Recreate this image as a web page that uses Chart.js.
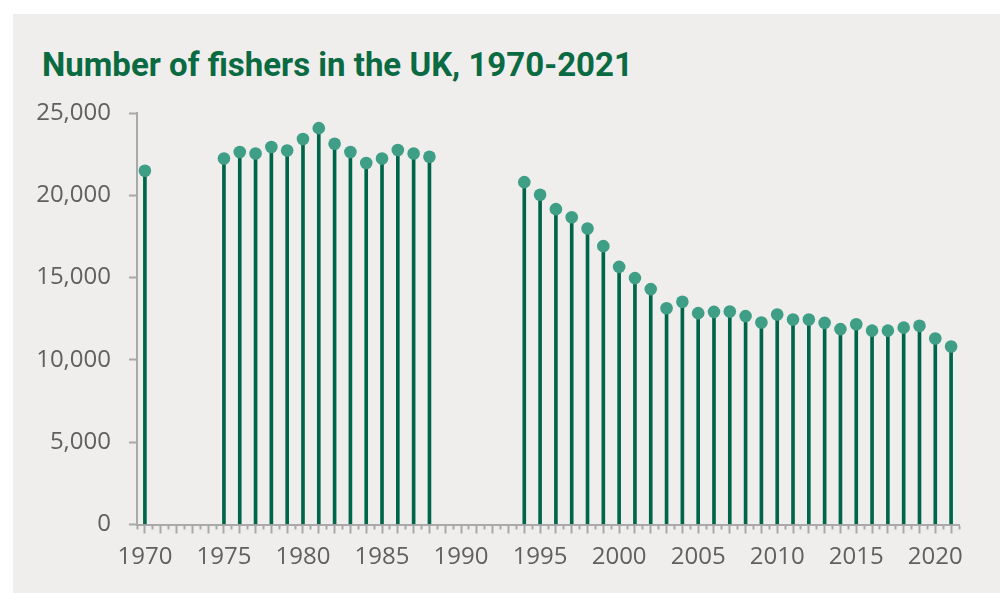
<!DOCTYPE html>
<html>
<head>
<meta charset="utf-8">
<script src="https://cdn.jsdelivr.net/npm/chart.js@4.4.1/dist/chart.umd.min.js"></script>
<style>
  html, body { margin: 0; padding: 0; background: #ffffff; }
  #wrap {
    position: absolute; left: 13px; top: 14px;
    width: 987px; height: 579px;
    background: #efeeec;
  }
  #title {
    position: absolute; left: 29px; top: 34px; margin: 0;
    font: 700 33px Roboto, sans-serif; line-height: 1;
    color: #0a6a42; white-space: nowrap;
  }
  #chart { position: absolute; left: 0; top: 0; }
</style>
</head>
<body>
<div id="wrap">
  <h1 id="title">Number of fishers in the UK, 1970-2021</h1>
  <canvas id="chart" width="987" height="579"></canvas>
</div>
<script>
// years with data (no figures for 1971-74 and 1989-93)
const years = [
  1970,
  1975, 1976, 1977, 1978, 1979, 1980, 1981, 1982, 1983, 1984, 1985, 1986, 1987, 1988,
  1994, 1995, 1996, 1997, 1998, 1999, 2000, 2001, 2002, 2003, 2004, 2005, 2006, 2007,
  2008, 2009, 2010, 2011, 2012, 2013, 2014, 2015, 2016, 2017, 2018, 2019, 2020, 2021,
];
const fishers = [
  21490,
  22240, 22630, 22540, 22930, 22720, 23420, 24080, 23130, 22630, 21960, 22240, 22750, 22540, 22340,
  20800, 20030, 19160, 18670, 17980, 16910, 15650, 14970, 14300, 13140, 13530, 12840, 12920, 12940,
  12660, 12270, 12760, 12450, 12450, 12250, 11870, 12170, 11780, 11780, 11960, 12070, 11300, 10810,
];
const yTicks = [0, 5000, 10000, 15000, 20000, 25000];
const xLabelYears = [1970, 1975, 1980, 1985, 1990, 1995, 2000, 2005, 2010, 2015, 2020];
const firstYear = 1970;
const lastYear = 2021;

const allYears = [];
for (let y = firstYear; y <= lastYear; y++) allYears.push(y);

const points = years.map((y, i) => ({ x: y, y: fishers[i] }));

const axisGrey = '#a9a9a9';
const labelGrey = '#606060';
const labelFont = { family: "'Open Sans'", size: 24 };

new Chart(document.getElementById('chart'), {
  type: 'bar',
  data: {
    datasets: [
      {
        type: 'scatter',
        data: points,
        xAxisID: 'x',
        backgroundColor: '#3f9e86',
        borderWidth: 0,
        pointRadius: 6.3,
        pointHoverRadius: 6.3,
        order: 0,
      },
      {
        type: 'bar',
        data: points,
        xAxisID: 'x',
        backgroundColor: '#00664a',
        barThickness: 3,
        order: 1,
      },
    ],
  },
  options: {
    animation: false,
    responsive: false,
    layout: {
      padding: { top: 99, right: 41, left: 0, bottom: 0 },
    },
    plugins: {
      legend: { display: false },
      tooltip: { enabled: false },
    },
    scales: {
      x: {
        type: 'linear',
        position: 'bottom',
        offset: false,
        weight: 1,
        min: firstYear - 0.5,
        max: lastYear + 0.5,
        afterBuildTicks(scale) {
          scale.ticks = allYears.map((v) => ({ value: v }));
        },
        afterFit(scale) {
          scale.height = 68.5;
        },
        border: { color: axisGrey, width: 2 },
        grid: {
          drawOnChartArea: false,
          color: axisGrey,
          tickLength: 5,
          tickWidth: 2,
        },
        ticks: {
          autoSkip: false,
          maxRotation: 0,
          color: labelGrey,
          font: labelFont,
          padding: 13,
          callback: (v) => (xLabelYears.includes(v) ? String(v) : ''),
        },
      },
      x2: {
        type: 'linear',
        position: 'bottom',
        offset: false,
        weight: 0,
        min: firstYear - 0.5,
        max: lastYear + 0.5,
        afterBuildTicks(scale) {
          scale.ticks = allYears.concat([lastYear + 1]).map((v) => ({ value: v - 0.5 }));
        },
        afterFit(scale) {
          scale.height = 0;
        },
        border: { color: axisGrey, width: 2 },
        grid: {
          drawOnChartArea: false,
          color: axisGrey,
          tickLength: 9,
          tickWidth: 2,
        },
        ticks: { display: false },
      },
      y: {
        min: 0,
        max: 25000,
        afterBuildTicks(scale) {
          scale.ticks = yTicks.map((v) => ({ value: v }));
        },
        afterFit(scale) {
          scale.width = 124;
        },
        border: { color: axisGrey, width: 2 },
        grid: {
          drawOnChartArea: false,
          color: axisGrey,
          tickLength: 8,
          tickWidth: 2,
        },
        ticks: {
          color: labelGrey,
          font: labelFont,
          padding: 18,
          callback: (v) => v.toLocaleString('en-GB'),
        },
      },
    },
  },
});
</script>
</body>
</html>
